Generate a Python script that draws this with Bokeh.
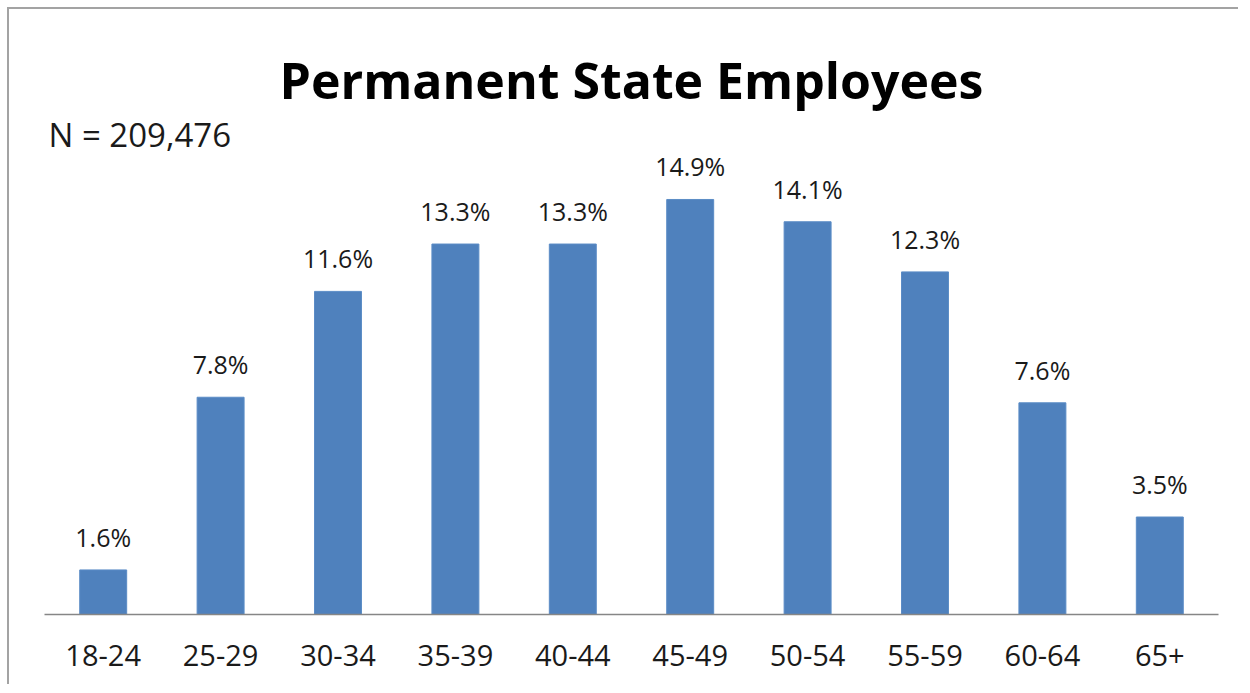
from bokeh.plotting import figure
from bokeh.models import ColumnDataSource, LabelSet, Label, Range1d, FactorRange
from bokeh.core.properties import value
from bokeh.embed import file_html
from bokeh.resources import INLINE

categories = ["18-24", "25-29", "30-34", "35-39", "40-44", "45-49", "50-54", "55-59", "60-64", "65+"]
values = [1.6, 7.8, 11.6, 13.3, 13.3, 14.9, 14.1, 12.3, 7.6, 3.5]
labels = [f"{v:.1f}%" for v in values]
title_text = "Permanent State Employees"
n_text = "N = 209,476"

FONT = "Open Sans"

source = ColumnDataSource(data=dict(cat=categories, val=values, lab=labels))

p = figure(
    x_range=FactorRange(*categories, range_padding=0),
    y_range=Range1d(0, 20.5),
    frame_width=1174, frame_height=571,
    min_border_left=35, min_border_right=20, min_border_top=34, min_border_bottom=70,
    output_backend="svg", toolbar_location=None, y_axis_location=None,
)
p.styles = {"margin-left": "7px", "margin-top": "7px",
            "border-top": "2px solid #a3a3a3", "border-left": "2px solid #a3a3a3",
            "border-right": "none", "border-bottom": "none", "outline": "none",
            "box-shadow": "none"}
p.border_fill_color = "white"
p.outline_line_color = None
p.xgrid.visible = False
p.ygrid.visible = False

p.vbar(x="cat", top="val", width=0.4, source=source,
       fill_color="#4F81BD", line_color="#5B8CC6", line_width=1)

p.add_layout(LabelSet(x="cat", y="val", text="lab", source=source,
                      text_align="center", text_baseline="alphabetic", y_offset=23,
                      text_font=value(FONT), text_font_size="25px", text_color="#1a1a1a"))

p.add_layout(Label(x=5, y=19.18, text=title_text, text_align="center",
                   text_baseline="alphabetic", text_font=FONT, text_font_style="bold",
                   text_font_size="50px", text_color="#000000"))
p.add_layout(Label(x=0.034, y=17.25, text=n_text, text_align="left",
                   text_baseline="alphabetic", text_font=FONT,
                   text_font_size="33px", text_color="#1a1a1a"))

ax = p.xaxis[0]
ax.axis_line_color = "#868686"
ax.axis_line_width = 1.5
ax.major_tick_line_color = None
ax.minor_tick_line_color = None
ax.major_tick_out = 0
ax.major_tick_in = 0
ax.major_label_standoff = 30
ax.major_label_text_font = FONT
ax.major_label_text_font_size = "29px"
ax.major_label_text_color = "#1a1a1a"

open("out.html", "w").write(file_html(p, INLINE))
